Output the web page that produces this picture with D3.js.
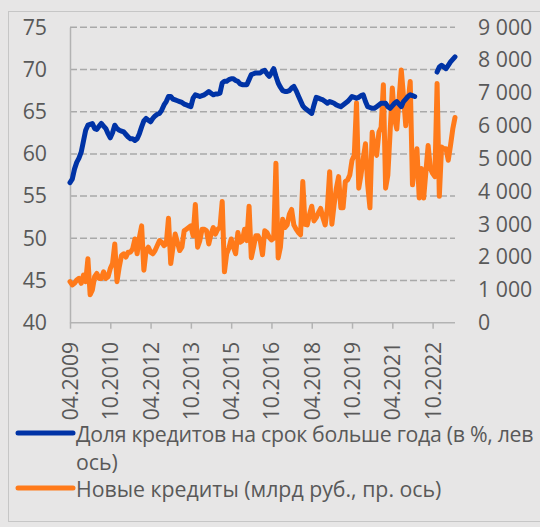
<!DOCTYPE html>
<html>
<head>
<meta charset="utf-8">
<script src="https://cdn.jsdelivr.net/npm/d3@7"></script>
<style>
  html, body { margin: 0; padding: 0; background: #e7e6e6; }
  svg { display: block; font-family: "Open Sans", "Noto Sans", sans-serif; }
</style>
</head>
<body>
<div id="chart"></div>
<script>
// monthly data, 04.2009 .. 08.2023 (173 months)

// share of loans longer than a year, % (left axis); null = no data
var longShare = [
  56.6, 57.0, 58.2, 59.0, 59.5, 60.2, 61.5, 62.8, 63.4, 63.5,
  63.6, 63.0, 62.9, 63.3, 63.6, 63.3, 63.0, 62.4, 61.9, 62.5,
  63.4, 63.0, 62.8, 62.7, 62.6, 62.3, 62.0, 61.8, 61.8, 61.6,
  61.8, 62.4, 63.2, 63.9, 64.2, 64.0, 63.8, 64.2, 64.5, 64.7,
  64.8, 65.2, 65.8, 66.2, 66.8, 66.8, 66.5, 66.4, 66.3, 66.2,
  66.1, 65.9, 65.8, 65.7, 65.6, 66.6, 67.0, 66.9, 66.8, 66.9,
  67.0, 67.2, 67.4, 67.2, 67.0, 67.1, 67.1, 67.2, 68.4, 68.6,
  68.6, 68.8, 68.9, 68.9, 68.7, 68.6, 68.3, 68.2, 68.2, 68.2,
  68.8, 69.4, 69.5, 69.6, 69.6, 69.6, 69.8, 69.9, 69.5, 69.2,
  69.6, 70.1, 69.2, 68.4, 67.9, 67.5, 67.4, 67.4, 67.5, 67.8,
  68.0, 67.5, 66.9, 66.3, 65.7, 65.4, 65.2, 65.0, 64.8, 65.8,
  66.7, 66.6, 66.5, 66.4, 66.2, 66.0, 66.2, 66.1, 66.0, 65.8,
  65.7, 65.6, 65.8, 66.0, 66.2, 66.5, 66.8, 66.7, 66.6, 66.7,
  66.9, 67.0, 66.2, 65.6, 65.5, 65.4, 65.4, 65.6, 65.8, 66.0,
  66.0, 66.0, 65.6, 65.4, 65.7, 66.0, 66.2, 65.9, 65.6, 66.2,
  66.5, 66.8, 67.0, 66.9, 66.8, null, null, null, null, null,
  null, null, null, null, 69.7, 70.3, 70.5, 70.3, 70.1, 70.5,
  70.9, 71.2, 71.5
];

// new loans, bn rub (right axis)
var newLoans = [
  1250, 1150, 1200, 1300, 1350, 1200, 1450, 1250, 1950, 850,
  1000, 1400, 1500, 1350, 1350, 1550, 1350, 1400, 1650, 1800,
  2400, 1250, 1700, 2050, 2100, 2000, 2150, 2150, 2250, 2550,
  2100, 2600, 2950, 1600, 2200, 2300, 2150, 2100, 2200, 2350,
  2500, 2450, 2350, 2400, 3180, 1800, 2300, 2700, 2450, 2200,
  2300, 2800, 2850, 2900, 2950, 2650, 3600, 2300, 2500, 2850,
  2850, 2800, 2400, 2700, 2900, 2700, 2850, 2900, 3690, 1550,
  2100, 2270, 2550, 2300, 2100, 2750, 2450, 2500, 2850, 2500,
  3550, 1980, 2300, 2650, 2650, 2500, 2070, 2800, 2750, 2600,
  2520, 2570, 4860, 1970, 2300, 3150, 2900, 2980, 3300, 3450,
  2980, 2850, 2750, 2680, 4300, 3000, 2980, 3300, 3550, 3100,
  3200, 3350, 3480, 3200, 2980, 3500, 4600, 3000, 3600, 4100,
  4450, 3500, 3500, 4300, 4350, 4500, 4950, 5100, 6700, 4100,
  4500, 5000, 5450, 4200, 3500, 5800, 5300, 5100, 5800, 5950,
  7250, 4100, 4500, 5800, 7150, 6200, 5900, 6800, 7700, 6900,
  6000, 6700, 7350, 4200, 4800, 5300, 3800, 4700, 3800, 4600,
  5400, 4700, 4550, 4450, 7290, 3850, 5350, 5300, 5300, 4950,
  5400, 5900, 6250
];

// x tick labels every 18 months
var xTickIndex = [0, 18, 36, 54, 72, 90, 108, 126, 144, 162];
var xTickLabels = ["04.2009", "10.2010", "04.2012", "10.2013", "04.2015",
                   "10.2016", "04.2018", "10.2019", "04.2021", "10.2022"];

var leftTicks = [40, 45, 50, 55, 60, 65, 70, 75];
var rightTicks = [0, 1000, 2000, 3000, 4000, 5000, 6000, 7000, 8000, 9000];

var legendNames = ["Доля кредитов на срок больше года (в %, лев", "ось)",
                   "Новые кредиты (млрд руб., пр. ось)"];

var svgWidth = 540;
var svgHeight = 527;
var margin = {top: 27.3, right: 85, bottom: 204.3, left: 70};
var chart_width = svgWidth - margin.left - margin.right;
var chart_height = svgHeight - margin.top - margin.bottom;

var blue = "#0033a6";
var orange = "#ff7a1a";
var textColor = "#595959";
var fontSize = "21.3px";

var SVG = d3.select("#chart")
  .append("svg")
  .attr("width", svgWidth)
  .attr("height", svgHeight);

// background and frame
SVG.append("rect")
  .attr("width", svgWidth).attr("height", svgHeight)
  .attr("fill", "#e7e6e6");
SVG.append("rect")
  .attr("x", 8.5).attr("y", 11.5)
  .attr("width", 560).attr("height", 510)
  .attr("fill", "none")
  .attr("stroke", "#c6c6c6")
  .attr("stroke-width", 1);

var chart_group = SVG.append("g")
  .attr("transform", `translate(${margin.left}, ${margin.top})`);

// scales
var xScale = d3.scaleLinear().domain([0, longShare.length - 1]).range([0, chart_width]);
var yLeft = d3.scaleLinear().domain([40, 75]).range([chart_height, 0]);
var yRight = d3.scaleLinear().domain([0, 9000]).range([chart_height, 0]);

// dashed grid (left axis values)
chart_group.append("g")
  .selectAll("line")
  .data(leftTicks.filter(d => d > 40))
  .enter()
  .append("line")
  .attr("x1", 0).attr("x2", chart_width)
  .attr("y1", d => yLeft(d)).attr("y2", d => yLeft(d))
  .attr("stroke", "#a9a9a9")
  .attr("stroke-width", 1.5)
  .attr("stroke-dasharray", "7,3");

// left axis
var leftAxis = chart_group.append("g")
  .call(d3.axisLeft(yLeft).tickValues(leftTicks).tickSize(0).tickPadding(23));
leftAxis.select(".domain")
  .attr("stroke", "#b3b3b3").attr("stroke-width", 1.5);
leftAxis.selectAll("text")
  .attr("font-size", fontSize).attr("fill", textColor)
  .style("font-family", "'Open Sans', sans-serif");

// right axis
var fmt = d3.formatLocale({decimal: ",", thousands: " ", grouping: [3], currency: ["", ""]}).format(",d");
var rightAxis = chart_group.append("g")
  .attr("transform", `translate(${chart_width}, 0)`)
  .call(d3.axisRight(yRight).tickValues(rightTicks).tickFormat(fmt).tickSize(0).tickPadding(23));
rightAxis.select(".domain").remove();
rightAxis.selectAll("text")
  .attr("font-size", fontSize).attr("fill", textColor)
  .style("font-family", "'Open Sans', sans-serif");

// bottom axis
var bottomAxis = chart_group.append("g")
  .attr("transform", `translate(0, ${chart_height})`)
  .call(d3.axisBottom(xScale).tickValues(xTickIndex).tickSize(6).tickFormat((d, i) => xTickLabels[i]));
bottomAxis.select(".domain")
  .attr("d", `M0,0H${chart_width}`)
  .attr("stroke", "#b3b3b3").attr("stroke-width", 1.5);
bottomAxis.selectAll(".tick line")
  .attr("stroke", "#b3b3b3").attr("stroke-width", 1.5);
bottomAxis.selectAll("text")
  .attr("font-size", fontSize).attr("fill", textColor)
  .style("font-family", "'Open Sans', sans-serif")
  .attr("transform", "rotate(-90)")
  .attr("text-anchor", "end")
  .attr("x", -19)
  .attr("y", 0)
  .attr("dy", "0.35em");

// lines
var leftLine = d3.line()
  .defined(d => d != null)
  .x((d, i) => xScale(i))
  .y(d => yLeft(d));
var rightLine = d3.line()
  .x((d, i) => xScale(i))
  .y(d => yRight(d));

chart_group.append("path")
  .datum(newLoans)
  .attr("d", rightLine)
  .attr("fill", "none")
  .attr("stroke", orange)
  .attr("stroke-width", 5)
  .attr("stroke-linejoin", "round")
  .attr("stroke-linecap", "round");

chart_group.append("path")
  .datum(longShare)
  .attr("d", leftLine)
  .attr("fill", "none")
  .attr("stroke", blue)
  .attr("stroke-width", 5)
  .attr("stroke-linejoin", "round")
  .attr("stroke-linecap", "round");

// legend
var legend = SVG.append("g");
legend.append("line")
  .attr("x1", 18).attr("x2", 73).attr("y1", 433).attr("y2", 433)
  .attr("stroke", blue).attr("stroke-width", 5).attr("stroke-linecap", "round");
legend.append("line")
  .attr("x1", 18).attr("x2", 73).attr("y1", 488).attr("y2", 488)
  .attr("stroke", orange).attr("stroke-width", 5).attr("stroke-linecap", "round");

legend.selectAll("text")
  .data(legendNames)
  .enter()
  .append("text")
  .attr("x", 76)
  .attr("y", (d, i) => [442, 470, 497][i])
  .attr("font-size", fontSize)
  .attr("letter-spacing", (d, i) => i == 0 ? "-0.3px" : null)
  .attr("fill", textColor)
  .text(d => d);
</script>
</body>
</html>
